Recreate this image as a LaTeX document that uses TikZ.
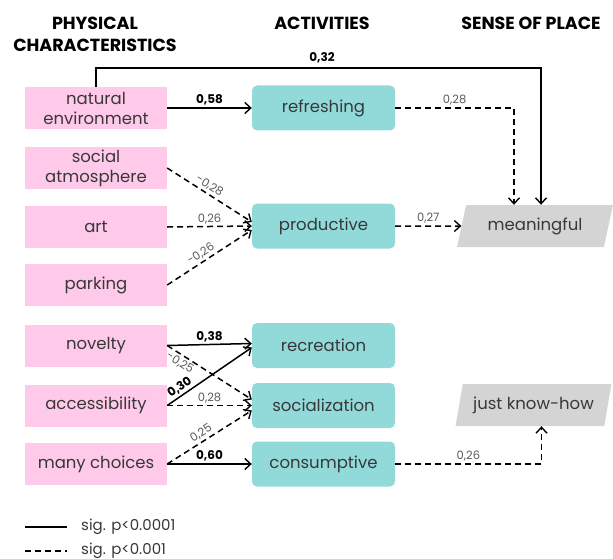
\documentclass[tikz,border=0pt]{standalone}
\usepackage{fontspec}
\setmainfont{Poppins}
\usetikzlibrary{arrows.meta,shapes.geometric,calc}
\definecolor{pinkc}{HTML}{FFC9E9}
\definecolor{tealc}{HTML}{92D9DA}
\definecolor{grayc}{HTML}{D4D4D4}
\definecolor{txtc}{HTML}{383838}
\definecolor{labc}{HTML}{5A5A5A}
\tikzset{
  boxfont/.style={font=\fontsize{16.5}{20}\selectfont},
  phys/.style={fill=pinkc, minimum width=142pt, minimum height=42pt, inner sep=0pt, align=center, text=txtc, boxfont},
  act/.style={fill=tealc, rounded corners=5pt, minimum width=143pt, minimum height=45pt, inner sep=0pt, text=txtc, boxfont},
  sop/.style={trapezium, trapezium left angle=70, trapezium right angle=110, trapezium stretches=true, fill=grayc, minimum width=156pt, minimum height=42pt, inner sep=0pt, text=txtc, boxfont},
  hdr/.style={font=\bfseries\fontsize{17.5}{22}\selectfont, align=center, inner sep=0pt},
  solidE/.style={draw=black, line width=1.5pt, -{Straight Barb[length=6pt,width=11pt,line width=1.4pt]}},
  dashE/.style={draw=black, line width=1.5pt, dash pattern=on 6pt off 4pt, -{Straight Barb[length=6pt,width=11pt,line width=1.4pt]}},
  blab/.style={font=\bfseries\fontsize{12}{14}\selectfont, text=black, inner sep=2pt},
  rlab/.style={font=\fontsize{11.5}{14}\selectfont, text=labc, inner sep=2pt},
  legtext/.style={font=\fontsize{15}{18}\selectfont, text=txtc, anchor=west, inner sep=0pt},
}
\begin{document}
\begin{tikzpicture}[x=1pt,y=-1pt]
\useasboundingbox (0,0) rectangle (613,559);
% headers
\node[hdr] (h1) at (95,34) {PHYSICAL\\CHARACTERISTICS};
\node[hdr] (h2) at (322,23) {ACTIVITIES};
\node[hdr] (h3) at (531,23) {SENSE OF PLACE};
% physical
\node[phys] (nat) at (96,108) {natural\\environment};
\node[phys] (soc) at (96,168) {social\\atmosphere};
\node[phys] (art) at (96,227) {art};
\node[phys] (park) at (96,285) {parking};
\node[phys] (nov) at (96,345.5) {novelty};
\node[phys] (acc) at (96,405.5) {accessibility};
\node[phys] (many) at (96,464) {many choices};
% activities
\node[act] (refr) at (323.5,108) {refreshing};
\node[act] (prod) at (323.5,226) {productive};
\node[act] (recr) at (323.5,345.5) {recreation};
\node[act] (soci) at (323.5,405.5) {socialization};
\node[act] (cons) at (323.5,464) {consumptive};
% sense of place
\node[sop] (mean) at (535,226) {meaningful};
\node[sop] (jkh) at (533.5,405) {just know-how};
% top connector
\coordinate (topR) at (541,68);
\draw[solidE] (nat.north) |- (topR) -- (topR |- mean.north);
\node[blab] (l32) at (322,58) {0,32};
% connectors
\draw[solidE] (nat.east) -- (refr.west) node[midway, above, blab] {0,58};
\draw[dashE] (refr.east) -| ($(mean.north)+(-21,0)$) node[pos=0.25, above, rlab] {0,28};
\draw[dashE] (soc.east) -- ($(prod.west)+(0,-4)$) node[pos=0.45, sloped, above, rlab] {-0,28};
\draw[dashE] (art.east) -- (prod.west) node[midway, above, rlab] {0,26};
\draw[dashE] (park.east) -- ($(prod.west)+(0,4)$) node[pos=0.45, sloped, above, rlab] {-0,26};
\draw[dashE] (prod.east) -- (mean.west) node[midway, above, rlab] {0,27};
\draw[solidE] (nov.east) -- ($(recr.west)+(0,-2)$) node[midway, above, blab] {0,38};
\draw[dashE] (nov.east) -- ($(soci.west)+(0,-6)$) node[pos=0.2, sloped, below, rlab] {-0,25};
\draw[solidE] (acc.east) -- ($(recr.west)+(0,2)$) node[pos=0.2, sloped, above, blab] {0,30};
\draw[dashE] (acc.east) -- (soci.west) node[midway, above, rlab] {0,28};
\draw[dashE] (many.east) -- ($(soci.west)+(0,5)$) node[pos=0.45, sloped, above, rlab] {0,25};
\draw[solidE] (many.east) -- (cons.west) node[midway, above, blab] {0,60};
\draw[dashE] (cons.east) -| ($(jkh.south)+(8,0)$) node[pos=0.25, above, rlab] {0,26};
% legend
\coordinate (lg1) at (25,527);
\coordinate (lg2) at (25,551);
\draw[line width=1.5pt] (lg1) -- ++(42,0);
\draw[line width=1.5pt, dash pattern=on 6pt off 4pt] (lg2) -- ++(42,0);
\node[legtext] (lt1) at (81,527) {sig. p<0.0001};
\node[legtext] (lt2) at (81,551) {sig. p<0.001};
\end{tikzpicture}
\end{document}
